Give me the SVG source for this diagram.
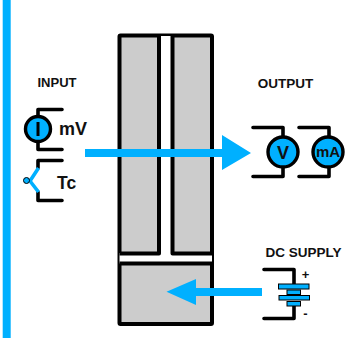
<svg xmlns="http://www.w3.org/2000/svg" width="350" height="338" viewBox="0 0 350 338">
<style>
.k{fill:none;stroke:#000;stroke-width:3.6;stroke-linejoin:round;stroke-linecap:round}
.p{fill:#ccc;stroke:#000;stroke-width:4;stroke-linejoin:round}
.b{fill:#00b0ff}
.c{fill:#00b0ff;stroke:#000;stroke-width:3.400}
.pl{fill:#00b0ff;stroke:#000;stroke-width:1}
text{font-family:"Liberation Sans",Arial,sans-serif;font-weight:bold;fill:#111}
</style>
<rect width="350" height="338" fill="#fff"/>
<rect id="sidebar" class="b" x="2.7" y="0" width="8" height="338"/>
<g id="module">
<rect x="119.500" y="35.500" width="92.500" height="288.500" rx="1" class="p"/>
<path d="M159.500 36H172V253H212V263.500H119.500V253H159.500Z" fill="#fff"/>
<path class="p" style="fill:none" d="M159 35.500V253.500H119.500M172.500 35.500V253.500H212M119.500 263.500H212"/>
</g>
<g id="input">
<text x="57" y="87" font-size="13" text-anchor="middle">INPUT</text>
<g id="mv">
<path class="k" d="M62 109.500H38V116M38 142V149.500H62"/>
<circle class="c" cx="38" cy="129" r="12.500"/>
<path d="M38 122V136" stroke="#000" stroke-width="3" fill="none"/>
<text x="59" y="135" font-size="18">mV</text>
</g>
<g id="tc">
<path class="k" d="M62 160.500H38V168M38 192V200.500H62"/>
<path d="M38.500 168L30 181L38.500 192" fill="none" stroke="#00b0ff" stroke-width="3.600"/>
<circle class="pl" cx="26.500" cy="180.500" r="3"/>
<text x="57" y="189" font-size="17.500">Tc</text>
</g>
</g>
<g id="output">
<text x="285.500" y="88" font-size="13.500" text-anchor="middle">OUTPUT</text>
<g id="v">
<path class="k" d="M253 127.500H283V137M283 167V176.500H253"/>
<circle class="c" cx="283" cy="152" r="15"/>
<text x="283" y="158.500" font-size="18" text-anchor="middle">V</text>
</g>
<g id="ma">
<path class="k" d="M299 127.500H329V137M329 167V176.500H299"/>
<circle class="c" cx="328" cy="152" r="15"/>
<text x="328" y="157" font-size="15" text-anchor="middle">mA</text>
</g>
</g>
<g id="supply">
<text x="303.500" y="256.500" font-size="13.500" text-anchor="middle">DC SUPPLY</text>
<path class="k" d="M264 269.500H294V284M294 306V318.500H264"/>
<rect class="pl" x="278.500" y="284" width="30.500" height="5"/>
<rect class="pl" x="287" y="290" width="13.500" height="4.500"/>
<rect class="pl" x="279" y="295.500" width="30.500" height="4.500"/>
<rect class="pl" x="287" y="301.500" width="13.500" height="4.500"/>
<text x="305.500" y="279" font-size="13" text-anchor="middle">+</text>
<text x="305.500" y="318" font-size="13" text-anchor="middle">-</text>
</g>
<g id="connectors">
<polygon class="b" points="85,149 222,149 222,135 251,153 222,170 222,157 85,157"/>
<polygon class="b" points="262,288 196,288 196,279 166.500,291.700 196,305 196,296 262,296"/>
</g>
</svg>
